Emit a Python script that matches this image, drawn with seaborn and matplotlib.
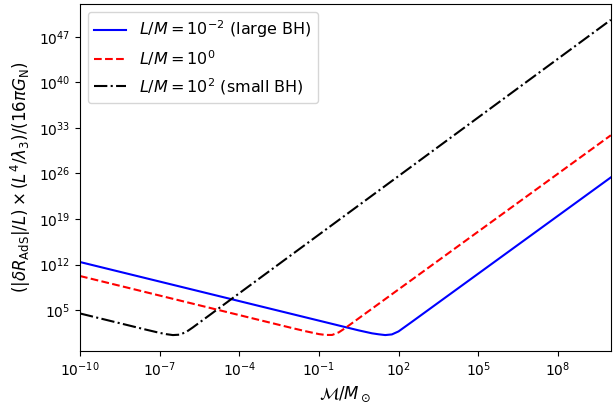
import numpy as np
import matplotlib
matplotlib.use("Agg")
import matplotlib.pyplot as plt
import seaborn as sns

# values, given as log10 of M/Msun and of the y quantity
logm_large = [-10, -9, -8, -7, -6, -5, -4, -3, -2, -1, 0, 0.5, 1, 1.25, 1.5, 1.75, 2, 2.5, 3, 4, 5, 6, 7, 8, 9, 10]
logy_large = [12.4, 11.4, 10.4, 9.4, 8.4, 7.4, 6.4, 5.4, 4.4, 3.4, 2.4, 1.9, 1.45, 1.3, 1.18, 1.28, 1.74, 3.2, 4.68, 7.64, 10.6, 13.56, 16.52, 19.48, 22.44, 25.4]

logm_mid = [-10, -9, -8, -7, -6, -5, -4, -3, -2, -1.5, -1, -0.75, -0.5, -0.25, 0, 0.5, 1, 2, 3, 4, 5, 6, 7, 8, 9, 10]
logy_mid = [10.25, 9.25, 8.25, 7.25, 6.25, 5.25, 4.25, 3.25, 2.25, 1.77, 1.33, 1.2, 1.2, 1.6, 2.27, 3.75, 5.23, 8.19, 11.15, 14.11, 17.07, 20.03, 22.99, 25.95, 28.91, 31.87]

logm_small = [-10, -9, -8, -7.5, -7, -6.75, -6.5, -6.25, -6, -5.75, -5.5, -5, -4, -3, -2, -1, 0, 1, 2, 3, 4, 5, 6, 7, 8, 9, 10]
logy_small = [4.5, 3.5, 2.5, 2.0, 1.52, 1.32, 1.18, 1.24, 1.65, 2.35, 3.1, 4.6, 7.6, 10.6, 13.6, 16.6, 19.6, 22.6, 25.6, 28.6, 31.6, 34.6, 37.6, 40.6, 43.6, 46.6, 49.6]

labels = [r"$L/M = 10^{-2}$ (large BH)", r"$L/M = 10^{0}$", r"$L/M = 10^{2}$ (small BH)"]

fig = plt.figure(figsize=(6.13, 4.07), dpi=100)
ax = fig.add_axes([0.1305, 0.138, 0.866, 0.852])

curves = [(logm_large, logy_large, "blue", "-"),
          (logm_mid, logy_mid, "red", "--"),
          (logm_small, logy_small, "black", "-.")]
for (lm, ly, c, ls), lab in zip(curves, labels):
    sns.lineplot(x=np.power(10.0, lm), y=np.power(10.0, ly), color=c,
                 linestyle=ls, linewidth=1.5, label=lab, ax=ax)

ax.set_xscale("log")
ax.set_yscale("log")
ax.set_xlim(1e-10, 1e10)
ax.set_xticks([1e-10, 1e-7, 1e-4, 1e-1, 1e2, 1e5, 1e8])
ax.set_yticks([1e5, 1e12, 1e19, 1e26, 1e33, 1e40, 1e47])
ax.xaxis.set_minor_locator(matplotlib.ticker.NullLocator())
ax.yaxis.set_minor_locator(matplotlib.ticker.NullLocator())
ax.tick_params(labelsize=10)
ax.set_xlabel(r"$\mathcal{M}/M_\odot$", fontsize=12)
ax.set_ylabel(r"$(|\delta R_{\rm AdS}|/L) \times (L^4/\lambda_3)/(16\pi G_{\rm N})$", fontsize=12)
ax.legend(loc="upper left", fontsize=11.5)

fig.savefig("out.png", dpi=100)
